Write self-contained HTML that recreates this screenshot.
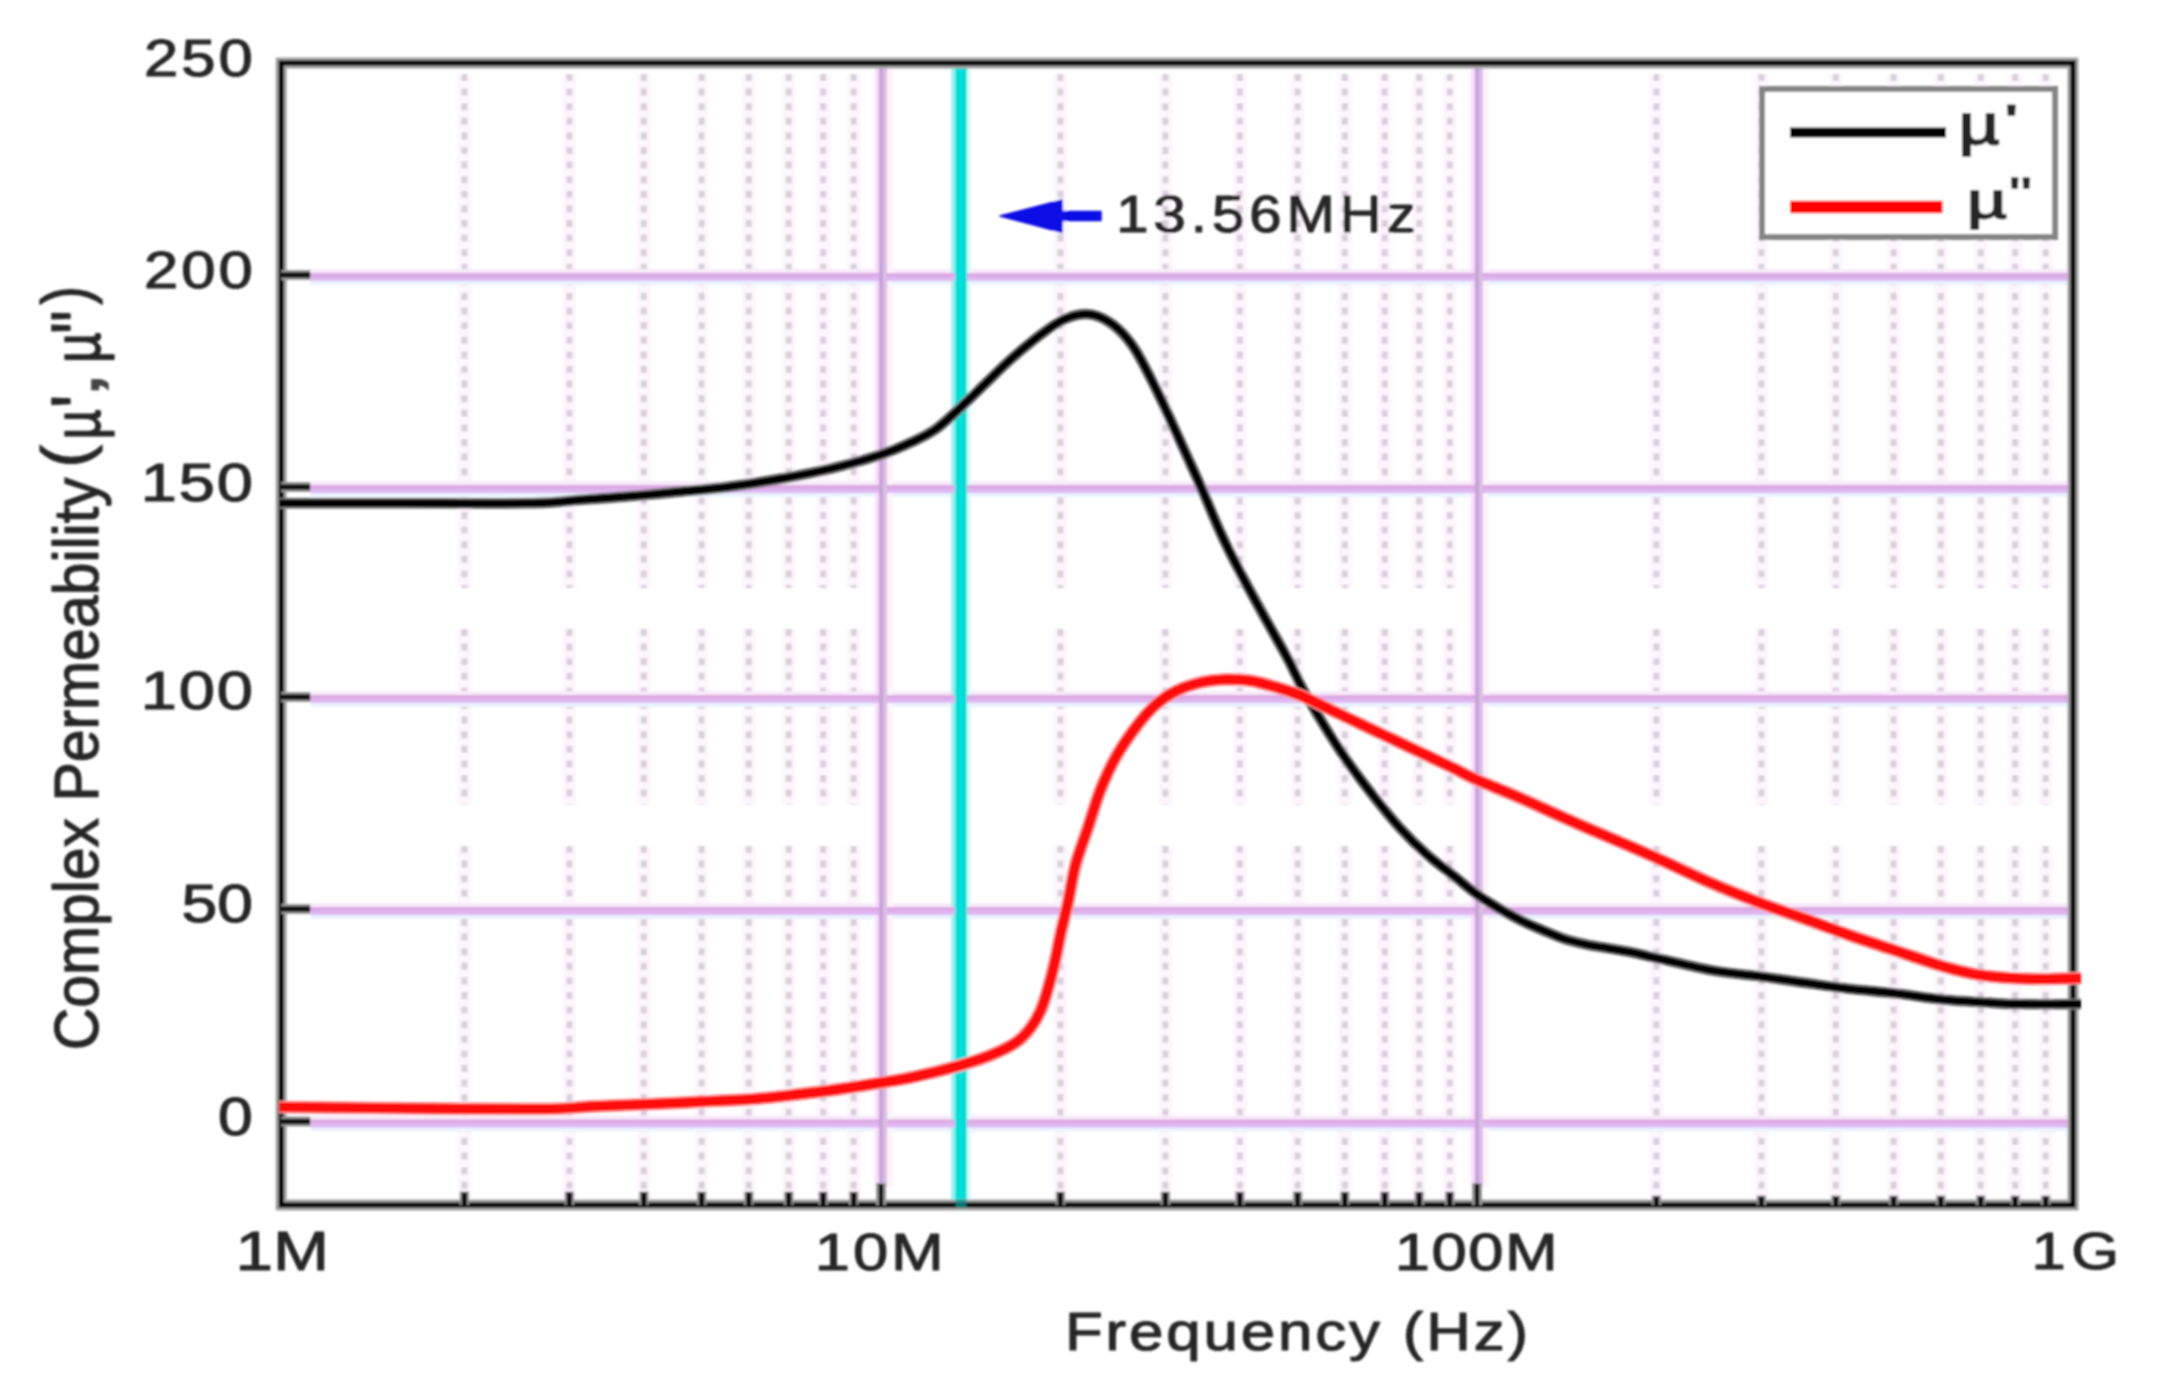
<!DOCTYPE html>
<html lang="en"><head><meta charset="utf-8"><title>Complex Permeability vs Frequency</title>
<style>
html,body{margin:0;padding:0;background:#fff;}
body{width:2157px;height:1387px;overflow:hidden;font-family:"Liberation Sans",sans-serif;}
svg{display:block;font-family:"Liberation Sans",sans-serif;}
</style></head><body>
<svg width="2157" height="1387" viewBox="0 0 2157 1387">
<defs><filter id="b" x="0" y="0" width="100%" height="100%" filterUnits="userSpaceOnUse"><feGaussianBlur stdDeviation="1.1"/></filter></defs>
<rect width="2157" height="1387" fill="#fff"/>
<g filter="url(#b)">
<line x1="464.4" y1="74" x2="464.4" y2="588" stroke="#fdf6fd" stroke-width="14"/>
<line x1="464.4" y1="74" x2="464.4" y2="588" stroke="#d9cfdb" stroke-width="6" stroke-dasharray="7 7.6"/>
<line x1="464.4" y1="629" x2="464.4" y2="805" stroke="#fdf6fd" stroke-width="14"/>
<line x1="464.4" y1="629" x2="464.4" y2="805" stroke="#d9cfdb" stroke-width="6" stroke-dasharray="7 7.6"/>
<line x1="464.4" y1="846" x2="464.4" y2="1199" stroke="#fdf6fd" stroke-width="14"/>
<line x1="464.4" y1="846" x2="464.4" y2="1199" stroke="#d9cfdb" stroke-width="6" stroke-dasharray="7 7.6"/>
<line x1="569.4" y1="74" x2="569.4" y2="588" stroke="#fdf6fd" stroke-width="14"/>
<line x1="569.4" y1="74" x2="569.4" y2="588" stroke="#d9cfdb" stroke-width="6" stroke-dasharray="7 7.6"/>
<line x1="569.4" y1="629" x2="569.4" y2="805" stroke="#fdf6fd" stroke-width="14"/>
<line x1="569.4" y1="629" x2="569.4" y2="805" stroke="#d9cfdb" stroke-width="6" stroke-dasharray="7 7.6"/>
<line x1="569.4" y1="846" x2="569.4" y2="1199" stroke="#fdf6fd" stroke-width="14"/>
<line x1="569.4" y1="846" x2="569.4" y2="1199" stroke="#d9cfdb" stroke-width="6" stroke-dasharray="7 7.6"/>
<line x1="643.8" y1="74" x2="643.8" y2="588" stroke="#fdf6fd" stroke-width="14"/>
<line x1="643.8" y1="74" x2="643.8" y2="588" stroke="#d9cfdb" stroke-width="6" stroke-dasharray="7 7.6"/>
<line x1="643.8" y1="629" x2="643.8" y2="805" stroke="#fdf6fd" stroke-width="14"/>
<line x1="643.8" y1="629" x2="643.8" y2="805" stroke="#d9cfdb" stroke-width="6" stroke-dasharray="7 7.6"/>
<line x1="643.8" y1="846" x2="643.8" y2="1199" stroke="#fdf6fd" stroke-width="14"/>
<line x1="643.8" y1="846" x2="643.8" y2="1199" stroke="#d9cfdb" stroke-width="6" stroke-dasharray="7 7.6"/>
<line x1="701.6" y1="74" x2="701.6" y2="588" stroke="#fdf6fd" stroke-width="14"/>
<line x1="701.6" y1="74" x2="701.6" y2="588" stroke="#d9cfdb" stroke-width="6" stroke-dasharray="7 7.6"/>
<line x1="701.6" y1="629" x2="701.6" y2="805" stroke="#fdf6fd" stroke-width="14"/>
<line x1="701.6" y1="629" x2="701.6" y2="805" stroke="#d9cfdb" stroke-width="6" stroke-dasharray="7 7.6"/>
<line x1="701.6" y1="846" x2="701.6" y2="1199" stroke="#fdf6fd" stroke-width="14"/>
<line x1="701.6" y1="846" x2="701.6" y2="1199" stroke="#d9cfdb" stroke-width="6" stroke-dasharray="7 7.6"/>
<line x1="748.8" y1="74" x2="748.8" y2="588" stroke="#fdf6fd" stroke-width="14"/>
<line x1="748.8" y1="74" x2="748.8" y2="588" stroke="#d9cfdb" stroke-width="6" stroke-dasharray="7 7.6"/>
<line x1="748.8" y1="629" x2="748.8" y2="805" stroke="#fdf6fd" stroke-width="14"/>
<line x1="748.8" y1="629" x2="748.8" y2="805" stroke="#d9cfdb" stroke-width="6" stroke-dasharray="7 7.6"/>
<line x1="748.8" y1="846" x2="748.8" y2="1199" stroke="#fdf6fd" stroke-width="14"/>
<line x1="748.8" y1="846" x2="748.8" y2="1199" stroke="#d9cfdb" stroke-width="6" stroke-dasharray="7 7.6"/>
<line x1="788.7" y1="74" x2="788.7" y2="588" stroke="#fdf6fd" stroke-width="14"/>
<line x1="788.7" y1="74" x2="788.7" y2="588" stroke="#d9cfdb" stroke-width="6" stroke-dasharray="7 7.6"/>
<line x1="788.7" y1="629" x2="788.7" y2="805" stroke="#fdf6fd" stroke-width="14"/>
<line x1="788.7" y1="629" x2="788.7" y2="805" stroke="#d9cfdb" stroke-width="6" stroke-dasharray="7 7.6"/>
<line x1="788.7" y1="846" x2="788.7" y2="1199" stroke="#fdf6fd" stroke-width="14"/>
<line x1="788.7" y1="846" x2="788.7" y2="1199" stroke="#d9cfdb" stroke-width="6" stroke-dasharray="7 7.6"/>
<line x1="823.2" y1="74" x2="823.2" y2="588" stroke="#fdf6fd" stroke-width="14"/>
<line x1="823.2" y1="74" x2="823.2" y2="588" stroke="#d9cfdb" stroke-width="6" stroke-dasharray="7 7.6"/>
<line x1="823.2" y1="629" x2="823.2" y2="805" stroke="#fdf6fd" stroke-width="14"/>
<line x1="823.2" y1="629" x2="823.2" y2="805" stroke="#d9cfdb" stroke-width="6" stroke-dasharray="7 7.6"/>
<line x1="823.2" y1="846" x2="823.2" y2="1199" stroke="#fdf6fd" stroke-width="14"/>
<line x1="823.2" y1="846" x2="823.2" y2="1199" stroke="#d9cfdb" stroke-width="6" stroke-dasharray="7 7.6"/>
<line x1="853.7" y1="74" x2="853.7" y2="588" stroke="#fdf6fd" stroke-width="14"/>
<line x1="853.7" y1="74" x2="853.7" y2="588" stroke="#d9cfdb" stroke-width="6" stroke-dasharray="7 7.6"/>
<line x1="853.7" y1="629" x2="853.7" y2="805" stroke="#fdf6fd" stroke-width="14"/>
<line x1="853.7" y1="629" x2="853.7" y2="805" stroke="#d9cfdb" stroke-width="6" stroke-dasharray="7 7.6"/>
<line x1="853.7" y1="846" x2="853.7" y2="1199" stroke="#fdf6fd" stroke-width="14"/>
<line x1="853.7" y1="846" x2="853.7" y2="1199" stroke="#d9cfdb" stroke-width="6" stroke-dasharray="7 7.6"/>
<line x1="1060.4" y1="74" x2="1060.4" y2="588" stroke="#fdf6fd" stroke-width="14"/>
<line x1="1060.4" y1="74" x2="1060.4" y2="588" stroke="#d9cfdb" stroke-width="6" stroke-dasharray="7 7.6"/>
<line x1="1060.4" y1="629" x2="1060.4" y2="805" stroke="#fdf6fd" stroke-width="14"/>
<line x1="1060.4" y1="629" x2="1060.4" y2="805" stroke="#d9cfdb" stroke-width="6" stroke-dasharray="7 7.6"/>
<line x1="1060.4" y1="846" x2="1060.4" y2="1199" stroke="#fdf6fd" stroke-width="14"/>
<line x1="1060.4" y1="846" x2="1060.4" y2="1199" stroke="#d9cfdb" stroke-width="6" stroke-dasharray="7 7.6"/>
<line x1="1165.4" y1="74" x2="1165.4" y2="588" stroke="#fdf6fd" stroke-width="14"/>
<line x1="1165.4" y1="74" x2="1165.4" y2="588" stroke="#d9cfdb" stroke-width="6" stroke-dasharray="7 7.6"/>
<line x1="1165.4" y1="629" x2="1165.4" y2="805" stroke="#fdf6fd" stroke-width="14"/>
<line x1="1165.4" y1="629" x2="1165.4" y2="805" stroke="#d9cfdb" stroke-width="6" stroke-dasharray="7 7.6"/>
<line x1="1165.4" y1="846" x2="1165.4" y2="1199" stroke="#fdf6fd" stroke-width="14"/>
<line x1="1165.4" y1="846" x2="1165.4" y2="1199" stroke="#d9cfdb" stroke-width="6" stroke-dasharray="7 7.6"/>
<line x1="1239.8" y1="74" x2="1239.8" y2="588" stroke="#fdf6fd" stroke-width="14"/>
<line x1="1239.8" y1="74" x2="1239.8" y2="588" stroke="#d9cfdb" stroke-width="6" stroke-dasharray="7 7.6"/>
<line x1="1239.8" y1="629" x2="1239.8" y2="805" stroke="#fdf6fd" stroke-width="14"/>
<line x1="1239.8" y1="629" x2="1239.8" y2="805" stroke="#d9cfdb" stroke-width="6" stroke-dasharray="7 7.6"/>
<line x1="1239.8" y1="846" x2="1239.8" y2="1199" stroke="#fdf6fd" stroke-width="14"/>
<line x1="1239.8" y1="846" x2="1239.8" y2="1199" stroke="#d9cfdb" stroke-width="6" stroke-dasharray="7 7.6"/>
<line x1="1297.6" y1="74" x2="1297.6" y2="588" stroke="#fdf6fd" stroke-width="14"/>
<line x1="1297.6" y1="74" x2="1297.6" y2="588" stroke="#d9cfdb" stroke-width="6" stroke-dasharray="7 7.6"/>
<line x1="1297.6" y1="629" x2="1297.6" y2="805" stroke="#fdf6fd" stroke-width="14"/>
<line x1="1297.6" y1="629" x2="1297.6" y2="805" stroke="#d9cfdb" stroke-width="6" stroke-dasharray="7 7.6"/>
<line x1="1297.6" y1="846" x2="1297.6" y2="1199" stroke="#fdf6fd" stroke-width="14"/>
<line x1="1297.6" y1="846" x2="1297.6" y2="1199" stroke="#d9cfdb" stroke-width="6" stroke-dasharray="7 7.6"/>
<line x1="1344.8" y1="74" x2="1344.8" y2="588" stroke="#fdf6fd" stroke-width="14"/>
<line x1="1344.8" y1="74" x2="1344.8" y2="588" stroke="#d9cfdb" stroke-width="6" stroke-dasharray="7 7.6"/>
<line x1="1344.8" y1="629" x2="1344.8" y2="805" stroke="#fdf6fd" stroke-width="14"/>
<line x1="1344.8" y1="629" x2="1344.8" y2="805" stroke="#d9cfdb" stroke-width="6" stroke-dasharray="7 7.6"/>
<line x1="1344.8" y1="846" x2="1344.8" y2="1199" stroke="#fdf6fd" stroke-width="14"/>
<line x1="1344.8" y1="846" x2="1344.8" y2="1199" stroke="#d9cfdb" stroke-width="6" stroke-dasharray="7 7.6"/>
<line x1="1384.7" y1="74" x2="1384.7" y2="588" stroke="#fdf6fd" stroke-width="14"/>
<line x1="1384.7" y1="74" x2="1384.7" y2="588" stroke="#d9cfdb" stroke-width="6" stroke-dasharray="7 7.6"/>
<line x1="1384.7" y1="629" x2="1384.7" y2="805" stroke="#fdf6fd" stroke-width="14"/>
<line x1="1384.7" y1="629" x2="1384.7" y2="805" stroke="#d9cfdb" stroke-width="6" stroke-dasharray="7 7.6"/>
<line x1="1384.7" y1="846" x2="1384.7" y2="1199" stroke="#fdf6fd" stroke-width="14"/>
<line x1="1384.7" y1="846" x2="1384.7" y2="1199" stroke="#d9cfdb" stroke-width="6" stroke-dasharray="7 7.6"/>
<line x1="1419.2" y1="74" x2="1419.2" y2="588" stroke="#fdf6fd" stroke-width="14"/>
<line x1="1419.2" y1="74" x2="1419.2" y2="588" stroke="#d9cfdb" stroke-width="6" stroke-dasharray="7 7.6"/>
<line x1="1419.2" y1="629" x2="1419.2" y2="805" stroke="#fdf6fd" stroke-width="14"/>
<line x1="1419.2" y1="629" x2="1419.2" y2="805" stroke="#d9cfdb" stroke-width="6" stroke-dasharray="7 7.6"/>
<line x1="1419.2" y1="846" x2="1419.2" y2="1199" stroke="#fdf6fd" stroke-width="14"/>
<line x1="1419.2" y1="846" x2="1419.2" y2="1199" stroke="#d9cfdb" stroke-width="6" stroke-dasharray="7 7.6"/>
<line x1="1449.7" y1="74" x2="1449.7" y2="588" stroke="#fdf6fd" stroke-width="14"/>
<line x1="1449.7" y1="74" x2="1449.7" y2="588" stroke="#d9cfdb" stroke-width="6" stroke-dasharray="7 7.6"/>
<line x1="1449.7" y1="629" x2="1449.7" y2="805" stroke="#fdf6fd" stroke-width="14"/>
<line x1="1449.7" y1="629" x2="1449.7" y2="805" stroke="#d9cfdb" stroke-width="6" stroke-dasharray="7 7.6"/>
<line x1="1449.7" y1="846" x2="1449.7" y2="1199" stroke="#fdf6fd" stroke-width="14"/>
<line x1="1449.7" y1="846" x2="1449.7" y2="1199" stroke="#d9cfdb" stroke-width="6" stroke-dasharray="7 7.6"/>
<line x1="1656.4" y1="74" x2="1656.4" y2="588" stroke="#fdf6fd" stroke-width="14"/>
<line x1="1656.4" y1="74" x2="1656.4" y2="588" stroke="#d9cfdb" stroke-width="6" stroke-dasharray="7 7.6"/>
<line x1="1656.4" y1="629" x2="1656.4" y2="805" stroke="#fdf6fd" stroke-width="14"/>
<line x1="1656.4" y1="629" x2="1656.4" y2="805" stroke="#d9cfdb" stroke-width="6" stroke-dasharray="7 7.6"/>
<line x1="1656.4" y1="846" x2="1656.4" y2="1199" stroke="#fdf6fd" stroke-width="14"/>
<line x1="1656.4" y1="846" x2="1656.4" y2="1199" stroke="#d9cfdb" stroke-width="6" stroke-dasharray="7 7.6"/>
<line x1="1761.4" y1="74" x2="1761.4" y2="588" stroke="#fdf6fd" stroke-width="14"/>
<line x1="1761.4" y1="74" x2="1761.4" y2="588" stroke="#d9cfdb" stroke-width="6" stroke-dasharray="7 7.6"/>
<line x1="1761.4" y1="629" x2="1761.4" y2="805" stroke="#fdf6fd" stroke-width="14"/>
<line x1="1761.4" y1="629" x2="1761.4" y2="805" stroke="#d9cfdb" stroke-width="6" stroke-dasharray="7 7.6"/>
<line x1="1761.4" y1="846" x2="1761.4" y2="1199" stroke="#fdf6fd" stroke-width="14"/>
<line x1="1761.4" y1="846" x2="1761.4" y2="1199" stroke="#d9cfdb" stroke-width="6" stroke-dasharray="7 7.6"/>
<line x1="1835.8" y1="74" x2="1835.8" y2="588" stroke="#fdf6fd" stroke-width="14"/>
<line x1="1835.8" y1="74" x2="1835.8" y2="588" stroke="#d9cfdb" stroke-width="6" stroke-dasharray="7 7.6"/>
<line x1="1835.8" y1="629" x2="1835.8" y2="805" stroke="#fdf6fd" stroke-width="14"/>
<line x1="1835.8" y1="629" x2="1835.8" y2="805" stroke="#d9cfdb" stroke-width="6" stroke-dasharray="7 7.6"/>
<line x1="1835.8" y1="846" x2="1835.8" y2="1199" stroke="#fdf6fd" stroke-width="14"/>
<line x1="1835.8" y1="846" x2="1835.8" y2="1199" stroke="#d9cfdb" stroke-width="6" stroke-dasharray="7 7.6"/>
<line x1="1893.6" y1="74" x2="1893.6" y2="588" stroke="#fdf6fd" stroke-width="14"/>
<line x1="1893.6" y1="74" x2="1893.6" y2="588" stroke="#d9cfdb" stroke-width="6" stroke-dasharray="7 7.6"/>
<line x1="1893.6" y1="629" x2="1893.6" y2="805" stroke="#fdf6fd" stroke-width="14"/>
<line x1="1893.6" y1="629" x2="1893.6" y2="805" stroke="#d9cfdb" stroke-width="6" stroke-dasharray="7 7.6"/>
<line x1="1893.6" y1="846" x2="1893.6" y2="1199" stroke="#fdf6fd" stroke-width="14"/>
<line x1="1893.6" y1="846" x2="1893.6" y2="1199" stroke="#d9cfdb" stroke-width="6" stroke-dasharray="7 7.6"/>
<line x1="1940.8" y1="74" x2="1940.8" y2="588" stroke="#fdf6fd" stroke-width="14"/>
<line x1="1940.8" y1="74" x2="1940.8" y2="588" stroke="#d9cfdb" stroke-width="6" stroke-dasharray="7 7.6"/>
<line x1="1940.8" y1="629" x2="1940.8" y2="805" stroke="#fdf6fd" stroke-width="14"/>
<line x1="1940.8" y1="629" x2="1940.8" y2="805" stroke="#d9cfdb" stroke-width="6" stroke-dasharray="7 7.6"/>
<line x1="1940.8" y1="846" x2="1940.8" y2="1199" stroke="#fdf6fd" stroke-width="14"/>
<line x1="1940.8" y1="846" x2="1940.8" y2="1199" stroke="#d9cfdb" stroke-width="6" stroke-dasharray="7 7.6"/>
<line x1="1980.7" y1="74" x2="1980.7" y2="588" stroke="#fdf6fd" stroke-width="14"/>
<line x1="1980.7" y1="74" x2="1980.7" y2="588" stroke="#d9cfdb" stroke-width="6" stroke-dasharray="7 7.6"/>
<line x1="1980.7" y1="629" x2="1980.7" y2="805" stroke="#fdf6fd" stroke-width="14"/>
<line x1="1980.7" y1="629" x2="1980.7" y2="805" stroke="#d9cfdb" stroke-width="6" stroke-dasharray="7 7.6"/>
<line x1="1980.7" y1="846" x2="1980.7" y2="1199" stroke="#fdf6fd" stroke-width="14"/>
<line x1="1980.7" y1="846" x2="1980.7" y2="1199" stroke="#d9cfdb" stroke-width="6" stroke-dasharray="7 7.6"/>
<line x1="2015.2" y1="74" x2="2015.2" y2="588" stroke="#fdf6fd" stroke-width="14"/>
<line x1="2015.2" y1="74" x2="2015.2" y2="588" stroke="#d9cfdb" stroke-width="6" stroke-dasharray="7 7.6"/>
<line x1="2015.2" y1="629" x2="2015.2" y2="805" stroke="#fdf6fd" stroke-width="14"/>
<line x1="2015.2" y1="629" x2="2015.2" y2="805" stroke="#d9cfdb" stroke-width="6" stroke-dasharray="7 7.6"/>
<line x1="2015.2" y1="846" x2="2015.2" y2="1199" stroke="#fdf6fd" stroke-width="14"/>
<line x1="2015.2" y1="846" x2="2015.2" y2="1199" stroke="#d9cfdb" stroke-width="6" stroke-dasharray="7 7.6"/>
<line x1="2045.7" y1="74" x2="2045.7" y2="588" stroke="#fdf6fd" stroke-width="14"/>
<line x1="2045.7" y1="74" x2="2045.7" y2="588" stroke="#d9cfdb" stroke-width="6" stroke-dasharray="7 7.6"/>
<line x1="2045.7" y1="629" x2="2045.7" y2="805" stroke="#fdf6fd" stroke-width="14"/>
<line x1="2045.7" y1="629" x2="2045.7" y2="805" stroke="#d9cfdb" stroke-width="6" stroke-dasharray="7 7.6"/>
<line x1="2045.7" y1="846" x2="2045.7" y2="1199" stroke="#fdf6fd" stroke-width="14"/>
<line x1="2045.7" y1="846" x2="2045.7" y2="1199" stroke="#d9cfdb" stroke-width="6" stroke-dasharray="7 7.6"/>
<rect x="310.2" y="269.0" width="1759.8" height="4.5" fill="#f8eafa"/>
<rect x="310.2" y="280.5" width="1759.8" height="4.5" fill="#eaf3ff"/>
<rect x="310.2" y="481.0" width="1759.8" height="4.5" fill="#f8eafa"/>
<rect x="310.2" y="492.5" width="1759.8" height="4.5" fill="#eaf3ff"/>
<rect x="310.2" y="691.0" width="1759.8" height="4.5" fill="#f8eafa"/>
<rect x="310.2" y="702.5" width="1759.8" height="4.5" fill="#eaf3ff"/>
<rect x="310.2" y="903.0" width="1759.8" height="4.5" fill="#f8eafa"/>
<rect x="310.2" y="914.5" width="1759.8" height="4.5" fill="#eaf3ff"/>
<rect x="310.2" y="1115.5" width="1759.8" height="4.5" fill="#f8eafa"/>
<rect x="310.2" y="1127.0" width="1759.8" height="4.5" fill="#eaf3ff"/>
<rect x="875.0" y="66.0" width="4.5" height="1121.0" fill="#fadcfb"/>
<rect x="886.5" y="66.0" width="6.0" height="1121.0" fill="#fdf2fa"/>
<rect x="1471.0" y="66.0" width="4.5" height="1121.0" fill="#fadcfb"/>
<rect x="1482.5" y="66.0" width="6.0" height="1121.0" fill="#fdf2fa"/>
<rect x="951.0" y="66.0" width="5.0" height="1142.0" fill="#a0f0f0"/>
<rect x="966.0" y="66.0" width="5.0" height="1142.0" fill="#def9fa"/>
<rect x="310.2" y="273.0" width="1759.8" height="4.2" fill="#dca8e2"/>
<rect x="310.2" y="277.0" width="1759.8" height="4.0" fill="#dfb8f2"/>
<rect x="310.2" y="485.0" width="1759.8" height="4.2" fill="#dca8e2"/>
<rect x="310.2" y="489.0" width="1759.8" height="4.0" fill="#dfb8f2"/>
<rect x="310.2" y="695.0" width="1759.8" height="4.2" fill="#dca8e2"/>
<rect x="310.2" y="699.0" width="1759.8" height="4.0" fill="#dfb8f2"/>
<rect x="310.2" y="907.0" width="1759.8" height="4.2" fill="#dca8e2"/>
<rect x="310.2" y="911.0" width="1759.8" height="4.0" fill="#dfb8f2"/>
<rect x="310.2" y="1119.5" width="1759.8" height="4.2" fill="#dca8e2"/>
<rect x="310.2" y="1123.5" width="1759.8" height="4.0" fill="#dfb8f2"/>
<rect x="879.0" y="66.0" width="4.2" height="1121.0" fill="#c8a2d8"/>
<rect x="883.0" y="66.0" width="4.0" height="1121.0" fill="#d8bfe4"/>
<rect x="1475.0" y="66.0" width="4.2" height="1121.0" fill="#c8a2d8"/>
<rect x="1479.0" y="66.0" width="4.0" height="1121.0" fill="#d8bfe4"/>
<rect x="955.0" y="66.0" width="12.0" height="1142.0" fill="#00e0d8"/>
<rect x="281.2" y="63.0" width="1791.8" height="1142.0" fill="none" stroke="#a0a0a0" stroke-width="11"/>
<rect x="281.2" y="63.0" width="1791.8" height="1142.0" fill="none" stroke="#000" stroke-width="5"/>
<path d="M279.0,503.2C299.2,503.2 357.7,503.2 400.0,503.2C442.3,503.2 502.7,503.8 533.0,503.2C563.3,502.6 565.8,500.9 582.0,499.8C598.2,498.7 613.8,497.6 630.0,496.3C646.2,495.0 662.8,493.4 679.0,491.8C695.2,490.2 710.3,489.1 727.0,487.0C743.7,484.9 761.7,482.1 779.0,479.0C796.3,475.9 814.2,472.6 831.0,468.6C847.8,464.6 866.5,459.4 880.0,455.0C893.5,450.6 902.7,446.3 912.0,442.0C921.3,437.7 928.0,434.7 936.0,429.0C944.0,423.3 951.8,415.5 960.0,408.0C968.2,400.5 976.7,392.0 985.0,384.0C993.3,376.0 1001.7,367.5 1010.0,360.0C1018.3,352.5 1026.7,345.4 1035.0,339.0C1043.3,332.6 1052.5,325.6 1060.0,321.5C1067.5,317.4 1073.7,315.4 1080.0,314.5C1086.3,313.6 1091.7,313.9 1098.0,316.3C1104.3,318.7 1111.8,323.2 1118.0,328.8C1124.2,334.4 1129.2,340.2 1135.4,350.0C1141.6,359.8 1149.1,375.2 1155.4,387.7C1161.7,400.2 1168.0,414.3 1173.0,425.2C1178.0,436.1 1180.6,442.0 1185.5,452.8C1190.4,463.6 1196.5,476.6 1202.4,490.2C1208.4,503.8 1214.6,519.8 1221.2,534.1C1227.8,548.4 1234.4,561.3 1242.1,575.9C1249.8,590.5 1259.5,608.0 1267.2,621.9C1274.9,635.8 1281.8,647.6 1288.1,659.5C1294.4,671.4 1297.9,680.5 1304.9,693.0C1311.9,705.5 1322.4,722.8 1329.9,734.8C1337.4,746.8 1342.5,754.5 1350.0,765.0C1357.5,775.5 1366.7,787.5 1375.0,798.0C1383.3,808.5 1391.4,818.6 1400.0,828.0C1408.6,837.4 1417.8,846.5 1426.7,854.4C1435.6,862.3 1445.2,869.1 1453.4,875.6C1461.6,882.1 1468.2,888.0 1475.6,893.4C1483.0,898.8 1490.5,903.3 1497.9,907.8C1505.3,912.2 1512.7,916.4 1520.1,920.1C1527.5,923.8 1535.0,927.0 1542.4,930.1C1549.8,933.2 1557.2,936.6 1564.6,939.0C1572.0,941.4 1579.5,943.0 1586.9,944.6C1594.3,946.2 1601.7,947.1 1609.1,948.4C1616.5,949.7 1623.2,950.6 1631.4,952.3C1639.6,954.0 1644.8,955.5 1658.4,958.5C1672.0,961.5 1695.9,967.6 1713.2,970.6C1730.5,973.6 1746.8,974.7 1762.0,976.7C1777.2,978.7 1789.9,980.8 1804.6,982.8C1819.3,984.8 1835.1,987.1 1850.3,988.9C1865.5,990.7 1880.8,991.6 1896.0,993.4C1911.2,995.2 1926.5,998.0 1941.7,999.5C1956.9,1001.0 1974.7,1001.8 1987.4,1002.6C2000.1,1003.4 2002.2,1003.9 2017.8,1004.1C2033.4,1004.4 2070.5,1004.1 2081.0,1004.1" fill="none" stroke="#7d7d7d" stroke-width="11" stroke-linejoin="round"/>
<path d="M279.0,503.2C299.2,503.2 357.7,503.2 400.0,503.2C442.3,503.2 502.7,503.8 533.0,503.2C563.3,502.6 565.8,500.9 582.0,499.8C598.2,498.7 613.8,497.6 630.0,496.3C646.2,495.0 662.8,493.4 679.0,491.8C695.2,490.2 710.3,489.1 727.0,487.0C743.7,484.9 761.7,482.1 779.0,479.0C796.3,475.9 814.2,472.6 831.0,468.6C847.8,464.6 866.5,459.4 880.0,455.0C893.5,450.6 902.7,446.3 912.0,442.0C921.3,437.7 928.0,434.7 936.0,429.0C944.0,423.3 951.8,415.5 960.0,408.0C968.2,400.5 976.7,392.0 985.0,384.0C993.3,376.0 1001.7,367.5 1010.0,360.0C1018.3,352.5 1026.7,345.4 1035.0,339.0C1043.3,332.6 1052.5,325.6 1060.0,321.5C1067.5,317.4 1073.7,315.4 1080.0,314.5C1086.3,313.6 1091.7,313.9 1098.0,316.3C1104.3,318.7 1111.8,323.2 1118.0,328.8C1124.2,334.4 1129.2,340.2 1135.4,350.0C1141.6,359.8 1149.1,375.2 1155.4,387.7C1161.7,400.2 1168.0,414.3 1173.0,425.2C1178.0,436.1 1180.6,442.0 1185.5,452.8C1190.4,463.6 1196.5,476.6 1202.4,490.2C1208.4,503.8 1214.6,519.8 1221.2,534.1C1227.8,548.4 1234.4,561.3 1242.1,575.9C1249.8,590.5 1259.5,608.0 1267.2,621.9C1274.9,635.8 1281.8,647.6 1288.1,659.5C1294.4,671.4 1297.9,680.5 1304.9,693.0C1311.9,705.5 1322.4,722.8 1329.9,734.8C1337.4,746.8 1342.5,754.5 1350.0,765.0C1357.5,775.5 1366.7,787.5 1375.0,798.0C1383.3,808.5 1391.4,818.6 1400.0,828.0C1408.6,837.4 1417.8,846.5 1426.7,854.4C1435.6,862.3 1445.2,869.1 1453.4,875.6C1461.6,882.1 1468.2,888.0 1475.6,893.4C1483.0,898.8 1490.5,903.3 1497.9,907.8C1505.3,912.2 1512.7,916.4 1520.1,920.1C1527.5,923.8 1535.0,927.0 1542.4,930.1C1549.8,933.2 1557.2,936.6 1564.6,939.0C1572.0,941.4 1579.5,943.0 1586.9,944.6C1594.3,946.2 1601.7,947.1 1609.1,948.4C1616.5,949.7 1623.2,950.6 1631.4,952.3C1639.6,954.0 1644.8,955.5 1658.4,958.5C1672.0,961.5 1695.9,967.6 1713.2,970.6C1730.5,973.6 1746.8,974.7 1762.0,976.7C1777.2,978.7 1789.9,980.8 1804.6,982.8C1819.3,984.8 1835.1,987.1 1850.3,988.9C1865.5,990.7 1880.8,991.6 1896.0,993.4C1911.2,995.2 1926.5,998.0 1941.7,999.5C1956.9,1001.0 1974.7,1001.8 1987.4,1002.6C2000.1,1003.4 2002.2,1003.9 2017.8,1004.1C2033.4,1004.4 2070.5,1004.1 2081.0,1004.1" fill="none" stroke="#000" stroke-width="7.6" stroke-linejoin="round"/>
<path d="M279.0,1107.0C295.0,1107.2 331.5,1107.7 375.0,1108.0C418.5,1108.3 504.2,1109.2 540.0,1109.0C575.8,1108.8 571.2,1107.4 590.0,1106.6C608.8,1105.8 633.9,1104.8 652.7,1104.0C671.5,1103.2 686.0,1102.4 702.7,1101.6C719.4,1100.8 738.2,1100.0 752.8,1099.0C767.4,1098.0 775.8,1097.0 790.4,1095.3C805.0,1093.6 825.5,1091.1 840.5,1089.0C855.5,1086.9 868.0,1084.9 880.5,1082.8C893.0,1080.7 902.2,1079.4 915.6,1076.5C929.0,1073.6 948.1,1068.8 960.6,1065.2C973.1,1061.7 981.5,1059.0 990.7,1055.2C999.9,1051.5 1009.0,1047.3 1015.7,1042.7C1022.4,1038.1 1026.5,1033.1 1030.7,1027.7C1034.9,1022.3 1037.9,1016.9 1040.8,1010.2C1043.7,1003.5 1045.8,996.4 1048.3,987.6C1050.8,978.8 1053.7,966.9 1055.8,957.6C1057.9,948.3 1059.0,941.1 1061.0,932.0C1063.0,922.9 1065.5,914.0 1067.9,902.9C1070.3,891.8 1072.1,877.8 1075.4,865.3C1078.7,852.8 1083.7,840.3 1087.9,827.8C1092.1,815.3 1095.8,801.9 1100.4,790.2C1105.0,778.5 1109.7,768.1 1115.5,757.7C1121.3,747.3 1128.8,736.4 1135.5,727.6C1142.2,718.8 1148.8,711.0 1155.5,705.0C1162.2,699.0 1168.1,695.0 1175.6,691.3C1183.1,687.5 1192.3,684.5 1200.6,682.5C1208.9,680.5 1217.2,679.8 1225.6,679.5C1233.9,679.2 1242.3,679.5 1250.7,680.7C1259.1,682.0 1267.4,684.5 1275.7,687.0C1284.0,689.5 1292.6,692.2 1300.8,695.5C1309.0,698.8 1316.8,703.1 1325.0,707.0C1333.2,710.9 1337.5,713.0 1350.0,719.0C1362.5,725.0 1383.3,734.8 1400.0,742.7C1416.7,750.6 1437.5,760.5 1450.0,766.5C1462.5,772.5 1463.7,773.9 1475.0,779.0C1486.3,784.1 1501.2,789.7 1518.0,797.0C1534.8,804.3 1553.4,813.2 1575.5,822.9C1597.6,832.6 1627.8,845.2 1650.7,855.4C1673.7,865.6 1694.7,876.0 1713.2,884.0C1731.8,892.0 1746.8,897.8 1762.0,903.6C1777.2,909.4 1789.9,913.5 1804.6,918.8C1819.3,924.1 1835.1,930.2 1850.3,935.5C1865.5,940.8 1880.8,945.7 1896.0,950.8C1911.2,955.9 1929.0,962.2 1941.7,966.0C1954.4,969.8 1961.8,971.7 1972.0,973.6C1982.2,975.5 1992.4,976.7 2002.6,977.6C2012.8,978.5 2019.9,979.0 2033.0,979.1C2046.1,979.2 2073.0,978.4 2081.0,978.2" fill="none" stroke="#ffa0a0" stroke-width="13" stroke-linejoin="round"/>
<path d="M279.0,1107.0C295.0,1107.2 331.5,1107.7 375.0,1108.0C418.5,1108.3 504.2,1109.2 540.0,1109.0C575.8,1108.8 571.2,1107.4 590.0,1106.6C608.8,1105.8 633.9,1104.8 652.7,1104.0C671.5,1103.2 686.0,1102.4 702.7,1101.6C719.4,1100.8 738.2,1100.0 752.8,1099.0C767.4,1098.0 775.8,1097.0 790.4,1095.3C805.0,1093.6 825.5,1091.1 840.5,1089.0C855.5,1086.9 868.0,1084.9 880.5,1082.8C893.0,1080.7 902.2,1079.4 915.6,1076.5C929.0,1073.6 948.1,1068.8 960.6,1065.2C973.1,1061.7 981.5,1059.0 990.7,1055.2C999.9,1051.5 1009.0,1047.3 1015.7,1042.7C1022.4,1038.1 1026.5,1033.1 1030.7,1027.7C1034.9,1022.3 1037.9,1016.9 1040.8,1010.2C1043.7,1003.5 1045.8,996.4 1048.3,987.6C1050.8,978.8 1053.7,966.9 1055.8,957.6C1057.9,948.3 1059.0,941.1 1061.0,932.0C1063.0,922.9 1065.5,914.0 1067.9,902.9C1070.3,891.8 1072.1,877.8 1075.4,865.3C1078.7,852.8 1083.7,840.3 1087.9,827.8C1092.1,815.3 1095.8,801.9 1100.4,790.2C1105.0,778.5 1109.7,768.1 1115.5,757.7C1121.3,747.3 1128.8,736.4 1135.5,727.6C1142.2,718.8 1148.8,711.0 1155.5,705.0C1162.2,699.0 1168.1,695.0 1175.6,691.3C1183.1,687.5 1192.3,684.5 1200.6,682.5C1208.9,680.5 1217.2,679.8 1225.6,679.5C1233.9,679.2 1242.3,679.5 1250.7,680.7C1259.1,682.0 1267.4,684.5 1275.7,687.0C1284.0,689.5 1292.6,692.2 1300.8,695.5C1309.0,698.8 1316.8,703.1 1325.0,707.0C1333.2,710.9 1337.5,713.0 1350.0,719.0C1362.5,725.0 1383.3,734.8 1400.0,742.7C1416.7,750.6 1437.5,760.5 1450.0,766.5C1462.5,772.5 1463.7,773.9 1475.0,779.0C1486.3,784.1 1501.2,789.7 1518.0,797.0C1534.8,804.3 1553.4,813.2 1575.5,822.9C1597.6,832.6 1627.8,845.2 1650.7,855.4C1673.7,865.6 1694.7,876.0 1713.2,884.0C1731.8,892.0 1746.8,897.8 1762.0,903.6C1777.2,909.4 1789.9,913.5 1804.6,918.8C1819.3,924.1 1835.1,930.2 1850.3,935.5C1865.5,940.8 1880.8,945.7 1896.0,950.8C1911.2,955.9 1929.0,962.2 1941.7,966.0C1954.4,969.8 1961.8,971.7 1972.0,973.6C1982.2,975.5 1992.4,976.7 2002.6,977.6C2012.8,978.5 2019.9,979.0 2033.0,979.1C2046.1,979.2 2073.0,978.4 2081.0,978.2" fill="none" stroke="#ff0a0a" stroke-width="10" stroke-linejoin="round"/>
<line x1="281.2" y1="275.0" x2="310.2" y2="275.0" stroke="#999" stroke-width="10"/>
<line x1="281.2" y1="275.0" x2="310.2" y2="275.0" stroke="#111" stroke-width="5.5"/>
<line x1="281.2" y1="487.0" x2="310.2" y2="487.0" stroke="#999" stroke-width="10"/>
<line x1="281.2" y1="487.0" x2="310.2" y2="487.0" stroke="#111" stroke-width="5.5"/>
<line x1="281.2" y1="697.0" x2="310.2" y2="697.0" stroke="#999" stroke-width="10"/>
<line x1="281.2" y1="697.0" x2="310.2" y2="697.0" stroke="#111" stroke-width="5.5"/>
<line x1="281.2" y1="909.0" x2="310.2" y2="909.0" stroke="#999" stroke-width="10"/>
<line x1="281.2" y1="909.0" x2="310.2" y2="909.0" stroke="#111" stroke-width="5.5"/>
<line x1="281.2" y1="1121.5" x2="310.2" y2="1121.5" stroke="#999" stroke-width="10"/>
<line x1="281.2" y1="1121.5" x2="310.2" y2="1121.5" stroke="#111" stroke-width="5.5"/>
<line x1="464.4" y1="1191.5" x2="464.4" y2="1205.0" stroke="#999" stroke-width="9.5"/>
<line x1="464.4" y1="1192.5" x2="464.4" y2="1205.0" stroke="#0a0a0a" stroke-width="5.5"/>
<line x1="569.4" y1="1191.5" x2="569.4" y2="1205.0" stroke="#999" stroke-width="9.5"/>
<line x1="569.4" y1="1192.5" x2="569.4" y2="1205.0" stroke="#0a0a0a" stroke-width="5.5"/>
<line x1="643.8" y1="1191.5" x2="643.8" y2="1205.0" stroke="#999" stroke-width="9.5"/>
<line x1="643.8" y1="1192.5" x2="643.8" y2="1205.0" stroke="#0a0a0a" stroke-width="5.5"/>
<line x1="701.6" y1="1191.5" x2="701.6" y2="1205.0" stroke="#999" stroke-width="9.5"/>
<line x1="701.6" y1="1192.5" x2="701.6" y2="1205.0" stroke="#0a0a0a" stroke-width="5.5"/>
<line x1="748.8" y1="1191.5" x2="748.8" y2="1205.0" stroke="#999" stroke-width="9.5"/>
<line x1="748.8" y1="1192.5" x2="748.8" y2="1205.0" stroke="#0a0a0a" stroke-width="5.5"/>
<line x1="788.7" y1="1191.5" x2="788.7" y2="1205.0" stroke="#999" stroke-width="9.5"/>
<line x1="788.7" y1="1192.5" x2="788.7" y2="1205.0" stroke="#0a0a0a" stroke-width="5.5"/>
<line x1="823.2" y1="1191.5" x2="823.2" y2="1205.0" stroke="#999" stroke-width="9.5"/>
<line x1="823.2" y1="1192.5" x2="823.2" y2="1205.0" stroke="#0a0a0a" stroke-width="5.5"/>
<line x1="853.7" y1="1191.5" x2="853.7" y2="1205.0" stroke="#999" stroke-width="9.5"/>
<line x1="853.7" y1="1192.5" x2="853.7" y2="1205.0" stroke="#0a0a0a" stroke-width="5.5"/>
<line x1="1060.4" y1="1191.5" x2="1060.4" y2="1205.0" stroke="#999" stroke-width="9.5"/>
<line x1="1060.4" y1="1192.5" x2="1060.4" y2="1205.0" stroke="#0a0a0a" stroke-width="5.5"/>
<line x1="1165.4" y1="1191.5" x2="1165.4" y2="1205.0" stroke="#999" stroke-width="9.5"/>
<line x1="1165.4" y1="1192.5" x2="1165.4" y2="1205.0" stroke="#0a0a0a" stroke-width="5.5"/>
<line x1="1239.8" y1="1191.5" x2="1239.8" y2="1205.0" stroke="#999" stroke-width="9.5"/>
<line x1="1239.8" y1="1192.5" x2="1239.8" y2="1205.0" stroke="#0a0a0a" stroke-width="5.5"/>
<line x1="1297.6" y1="1191.5" x2="1297.6" y2="1205.0" stroke="#999" stroke-width="9.5"/>
<line x1="1297.6" y1="1192.5" x2="1297.6" y2="1205.0" stroke="#0a0a0a" stroke-width="5.5"/>
<line x1="1344.8" y1="1191.5" x2="1344.8" y2="1205.0" stroke="#999" stroke-width="9.5"/>
<line x1="1344.8" y1="1192.5" x2="1344.8" y2="1205.0" stroke="#0a0a0a" stroke-width="5.5"/>
<line x1="1384.7" y1="1191.5" x2="1384.7" y2="1205.0" stroke="#999" stroke-width="9.5"/>
<line x1="1384.7" y1="1192.5" x2="1384.7" y2="1205.0" stroke="#0a0a0a" stroke-width="5.5"/>
<line x1="1419.2" y1="1191.5" x2="1419.2" y2="1205.0" stroke="#999" stroke-width="9.5"/>
<line x1="1419.2" y1="1192.5" x2="1419.2" y2="1205.0" stroke="#0a0a0a" stroke-width="5.5"/>
<line x1="1449.7" y1="1191.5" x2="1449.7" y2="1205.0" stroke="#999" stroke-width="9.5"/>
<line x1="1449.7" y1="1192.5" x2="1449.7" y2="1205.0" stroke="#0a0a0a" stroke-width="5.5"/>
<line x1="1656.4" y1="1195.5" x2="1656.4" y2="1205.0" stroke="#999" stroke-width="9.5"/>
<line x1="1656.4" y1="1196.5" x2="1656.4" y2="1205.0" stroke="#0a0a0a" stroke-width="5.5"/>
<line x1="1761.4" y1="1195.5" x2="1761.4" y2="1205.0" stroke="#999" stroke-width="9.5"/>
<line x1="1761.4" y1="1196.5" x2="1761.4" y2="1205.0" stroke="#0a0a0a" stroke-width="5.5"/>
<line x1="1835.8" y1="1195.5" x2="1835.8" y2="1205.0" stroke="#999" stroke-width="9.5"/>
<line x1="1835.8" y1="1196.5" x2="1835.8" y2="1205.0" stroke="#0a0a0a" stroke-width="5.5"/>
<line x1="1893.6" y1="1195.5" x2="1893.6" y2="1205.0" stroke="#999" stroke-width="9.5"/>
<line x1="1893.6" y1="1196.5" x2="1893.6" y2="1205.0" stroke="#0a0a0a" stroke-width="5.5"/>
<line x1="1940.8" y1="1195.5" x2="1940.8" y2="1205.0" stroke="#999" stroke-width="9.5"/>
<line x1="1940.8" y1="1196.5" x2="1940.8" y2="1205.0" stroke="#0a0a0a" stroke-width="5.5"/>
<line x1="1980.7" y1="1195.5" x2="1980.7" y2="1205.0" stroke="#999" stroke-width="9.5"/>
<line x1="1980.7" y1="1196.5" x2="1980.7" y2="1205.0" stroke="#0a0a0a" stroke-width="5.5"/>
<line x1="2015.2" y1="1195.5" x2="2015.2" y2="1205.0" stroke="#999" stroke-width="9.5"/>
<line x1="2015.2" y1="1196.5" x2="2015.2" y2="1205.0" stroke="#0a0a0a" stroke-width="5.5"/>
<line x1="2045.7" y1="1195.5" x2="2045.7" y2="1205.0" stroke="#999" stroke-width="9.5"/>
<line x1="2045.7" y1="1196.5" x2="2045.7" y2="1205.0" stroke="#0a0a0a" stroke-width="5.5"/>
<line x1="881.0" y1="1183.0" x2="881.0" y2="1205.0" stroke="#999" stroke-width="10"/>
<line x1="881.0" y1="1184.0" x2="881.0" y2="1205.0" stroke="#050505" stroke-width="4.5"/>
<line x1="1477.0" y1="1183.0" x2="1477.0" y2="1205.0" stroke="#999" stroke-width="10"/>
<line x1="1477.0" y1="1184.0" x2="1477.0" y2="1205.0" stroke="#050505" stroke-width="4.5"/>
<line x1="961" y1="1200.0" x2="961" y2="1208.0" stroke="#0b8f8f" stroke-width="11" opacity="0.8"/>
<rect x="1762" y="89" width="293" height="148" fill="#fff" stroke="#858585" stroke-width="6"/>
<line x1="1790" y1="132.5" x2="1946" y2="132.5" stroke="#000" stroke-width="10"/>
<line x1="1790" y1="207" x2="1942.5" y2="207" stroke="#ff0000" stroke-width="12.5"/>
<path d="M1000,216 L1062,200 L1062,211.5 L1101,211.5 L1101,220.5 L1062,220.5 L1062,232.5 Z" fill="#0a0ae6" stroke="#0a0ae6" stroke-width="1.5" stroke-linejoin="round"/>
<text transform="translate(144.02,75.89) scale(0.6157,0.5131)" font-size="100" fill="#262626" letter-spacing="4.89" stroke="#262626" stroke-width="1.2" vector-effect="non-scaling-stroke" stroke-linejoin="round">250</text>
<text transform="translate(144.02,287.89) scale(0.6157,0.5131)" font-size="100" fill="#262626" letter-spacing="4.89" stroke="#262626" stroke-width="1.2" vector-effect="non-scaling-stroke" stroke-linejoin="round">200</text>
<text transform="translate(140.73,501.36) scale(0.6496,0.5413)" font-size="100" fill="#262626" letter-spacing="2.91" stroke="#262626" stroke-width="1.2" vector-effect="non-scaling-stroke" stroke-linejoin="round">150</text>
<text transform="translate(140.73,709.36) scale(0.6496,0.5413)" font-size="100" fill="#262626" letter-spacing="2.91" stroke="#262626" stroke-width="1.2" vector-effect="non-scaling-stroke" stroke-linejoin="round">100</text>
<text transform="translate(181.53,922.36) scale(0.6421,0.5413)" font-size="100" fill="#262626" stroke="#262626" stroke-width="1.2" vector-effect="non-scaling-stroke" stroke-linejoin="round">50</text>
<text transform="translate(218.10,1134.87) scale(0.6241,0.5272)" font-size="100" fill="#262626" stroke="#262626" stroke-width="1.2" vector-effect="non-scaling-stroke" stroke-linejoin="round">0</text>
<text transform="translate(235.55,1270.40) scale(0.6732,0.5644)" font-size="100" fill="#262626" stroke="#262626" stroke-width="1.2" vector-effect="non-scaling-stroke" stroke-linejoin="round">1M</text>
<text transform="translate(814.86,1269.87) scale(0.6327,0.5272)" font-size="100" fill="#262626" letter-spacing="4.52" stroke="#262626" stroke-width="1.2" vector-effect="non-scaling-stroke" stroke-linejoin="round">10M</text>
<text transform="translate(1394.86,1269.87) scale(0.6327,0.5272)" font-size="100" fill="#262626" letter-spacing="2.42" stroke="#262626" stroke-width="1.2" vector-effect="non-scaling-stroke" stroke-linejoin="round">100M</text>
<text transform="translate(2031.48,1268.89) scale(0.6157,0.5131)" font-size="100" fill="#262626" letter-spacing="8.92" stroke="#262626" stroke-width="1.2" vector-effect="non-scaling-stroke" stroke-linejoin="round">1G</text>
<text transform="translate(1065.00,1349.55) scale(0.6179,0.5373)" font-size="100" fill="#262626" letter-spacing="4.66" stroke="#262626" stroke-width="1.2" vector-effect="non-scaling-stroke" stroke-linejoin="round">Frequency (Hz)</text>
<text transform="translate(1116.25,231.87) scale(0.5799,0.5272)" font-size="100" fill="#262626" letter-spacing="8.68" stroke="#262626" stroke-width="1.2" vector-effect="non-scaling-stroke" stroke-linejoin="round">13.56MHz</text>
<text transform="translate(98.20,1050.35) rotate(-90) scale(0.5891,0.6359)" font-size="100" fill="#262626" stroke="#262626" stroke-width="1.2" vector-effect="non-scaling-stroke" stroke-linejoin="round">Complex Permeability</text>
<text transform="translate(88.43,467.72) rotate(-90) scale(0.6906,0.6735)" font-size="100" fill="#262626" stroke="#262626" stroke-width="1.2" vector-effect="non-scaling-stroke" stroke-linejoin="round">(</text>
<text transform="translate(99.62,439.42) rotate(-90) scale(0.5216,0.6639)" font-size="100" fill="#262626" stroke="#262626" stroke-width="1.2" vector-effect="non-scaling-stroke" stroke-linejoin="round">µ</text>
<text transform="translate(109.44,407.90) rotate(-90) scale(0.7000,0.8414)" font-size="100" fill="#262626" stroke="#262626" stroke-width="1.2" vector-effect="non-scaling-stroke" stroke-linejoin="round">'</text>
<text transform="translate(99.03,400.40) rotate(-90) scale(1.1282,0.7234)" font-size="100" fill="#444" stroke="#444" stroke-width="0.5" vector-effect="non-scaling-stroke" stroke-linejoin="round">,</text>
<text transform="translate(99.62,362.99) rotate(-90) scale(0.5320,0.6639)" font-size="100" fill="#262626" stroke="#262626" stroke-width="1.2" vector-effect="non-scaling-stroke" stroke-linejoin="round">µ</text>
<text transform="translate(109.44,333.70) rotate(-90) scale(0.6593,0.8414)" font-size="100" fill="#262626" stroke="#262626" stroke-width="1.2" vector-effect="non-scaling-stroke" stroke-linejoin="round">&quot;</text>
<text transform="translate(88.43,304.82) rotate(-90) scale(0.5585,0.6735)" font-size="100" fill="#262626" stroke="#262626" stroke-width="1.2" vector-effect="non-scaling-stroke" stroke-linejoin="round">)</text>
<text transform="translate(1958.38,144.41) scale(0.7134,0.5728)" font-size="100" fill="#262626" stroke="#262626" stroke-width="2.4" vector-effect="non-scaling-stroke" stroke-linejoin="round">µ</text>
<text transform="translate(2003.75,138.44) scale(0.8000,0.4828)" font-size="100" fill="#262626" stroke="#262626" stroke-width="1.5" vector-effect="non-scaling-stroke" stroke-linejoin="round">'</text>
<text transform="translate(1967.02,218.40) scale(0.6928,0.5252)" font-size="100" fill="#262626" stroke="#262626" stroke-width="2.4" vector-effect="non-scaling-stroke" stroke-linejoin="round">µ</text>
<text transform="translate(2009.00,210.94) scale(0.6481,0.4828)" font-size="100" fill="#262626" stroke="#262626" stroke-width="1.5" vector-effect="non-scaling-stroke" stroke-linejoin="round">&quot;</text>
</g></svg>
</body></html>
